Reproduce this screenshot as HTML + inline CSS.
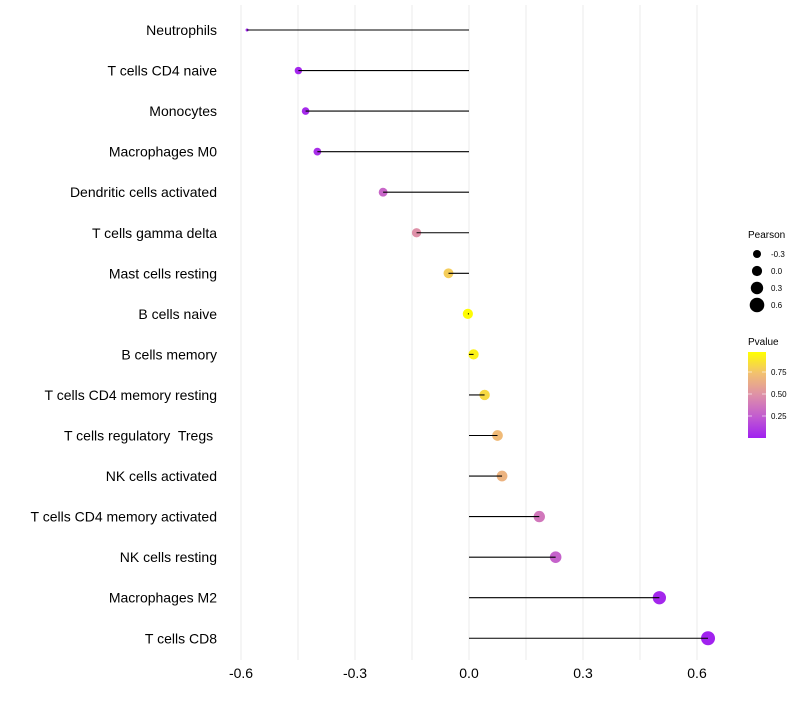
<!DOCTYPE html>
<html><head><meta charset="utf-8"><style>
body{margin:0;background:#fff;}
svg{font-family:"Liberation Sans",sans-serif;}
text{white-space:pre;}
</style></head><body>
<svg id="chart" width="800" height="700">
<defs><linearGradient id="pg" x1="0" y1="1" x2="0" y2="0">
<stop offset="0" stop-color="#a020f0"/><stop offset="0.25" stop-color="#c25cd0"/><stop offset="0.5" stop-color="#de90a8"/><stop offset="0.75" stop-color="#f2c070"/><stop offset="1" stop-color="#ffff00"/>
</linearGradient></defs>
<g id="grid"></g><g id="marks"></g><g id="ylabels"></g><g id="xlabels"></g>
<g>
<text x="748" y="238" font-size="10" fill="#000">Pearson</text>
<g id="sizeleg"></g>
<text x="748" y="345" font-size="10" fill="#000">Pvalue</text>
<rect x="748" y="352" width="18" height="86" fill="url(#pg)"/>
<g id="colleg"></g>
</g>
</svg>
<script>
const categories=["Neutrophils","T cells CD4 naive","Monocytes","Macrophages M0","Dendritic cells activated","T cells gamma delta","Mast cells resting","B cells naive","B cells memory","T cells CD4 memory resting","T cells regulatory  Tregs ","NK cells activated","T cells CD4 memory activated","NK cells resting","Macrophages M2","T cells CD8"];
const pearson=[-0.584,-0.449,-0.43,-0.399,-0.226,-0.138,-0.054,-0.003,0.012,0.041,0.075,0.087,0.185,0.228,0.501,0.629];
const pvalues=[0.01,0.03,0.04,0.06,0.3,0.5,0.8,0.99,0.95,0.85,0.72,0.68,0.38,0.28,0.03,0.01];
const xTicks=[-0.6,-0.3,0,0.3,0.6];
const xTickLabels=["-0.6","-0.3","0.0","0.3","0.6"];
const sizeLegend=[-0.3,0,0.3,0.6];
const colorTicks=[0.25,0.5,0.75];
const NS="http://www.w3.org/2000/svg";
const X=v=>469+v*380;
const Y=i=>30+i*40.55;
const R=v=>v<-0.5?Math.max(1.5,3.6-(-0.5-v)*25):5.1+3.05*v;
const stops=[[0,[160,32,240]],[0.25,[194,92,208]],[0.5,[222,144,168]],[0.75,[242,192,112]],[1,[255,255,0]]];
function col(p){for(let k=1;k<stops.length;k++){if(p<=stops[k][0]){const a=stops[k-1],b=stops[k];const t=(p-a[0])/(b[0]-a[0]);return "rgb("+a[1].map((c,j)=>Math.round(c+(b[1][j]-c)*t)).join(",")+")";}}return "rgb(255,255,0)";}
function mk(tag,at,parent){const e=document.createElementNS(NS,tag);for(const k in at)e.setAttribute(k,at[k]);document.getElementById(parent).appendChild(e);return e;}
const CY=p=>438-p*88;
for(let v=-0.6;v<=0.61;v+=0.15){const g=mk("line",{x1:X(v),x2:X(v),y1:5,y2:660,stroke:"#ebebeb","stroke-width":1},"grid");

}
categories.forEach((c,i)=>{
const pt=mk("circle",{cx:X(pearson[i]),cy:Y(i),r:R(pearson[i]),fill:col(pvalues[i])},"marks");


const ln=mk("line",{x1:X(0),x2:X(pearson[i]),y1:Y(i),y2:Y(i),stroke:"#000","stroke-width":1.1},"marks");


const t=mk("text",{x:217,y:Y(i)+5,"text-anchor":"end","font-size":14,fill:"#000"},"ylabels");t.textContent=c;


});
xTicks.forEach((v,i)=>{const t=mk("text",{x:X(v),y:678,"text-anchor":"middle","font-size":14,fill:"#000"},"xlabels");t.textContent=xTickLabels[i];

});
sizeLegend.forEach((v,i)=>{const y=254+i*17;const c=mk("circle",{cx:757,cy:y,r:4+1.1*i,fill:"#000"},"sizeleg");


const t=mk("text",{x:771,y:y+3,"font-size":8,fill:"#000"},"sizeleg");t.textContent=v.toFixed(1);

});
colorTicks.forEach(p=>{const y=CY(p);mk("line",{x1:748,x2:752,y1:y,y2:y,stroke:"#fff","stroke-opacity":0.6},"colleg");mk("line",{x1:762,x2:766,y1:y,y2:y,stroke:"#fff","stroke-opacity":0.6},"colleg");
const t=mk("text",{x:771,y:y+3,"font-size":8,fill:"#000"},"colleg");t.textContent=p.toFixed(2);

});
</script>
</body></html>
